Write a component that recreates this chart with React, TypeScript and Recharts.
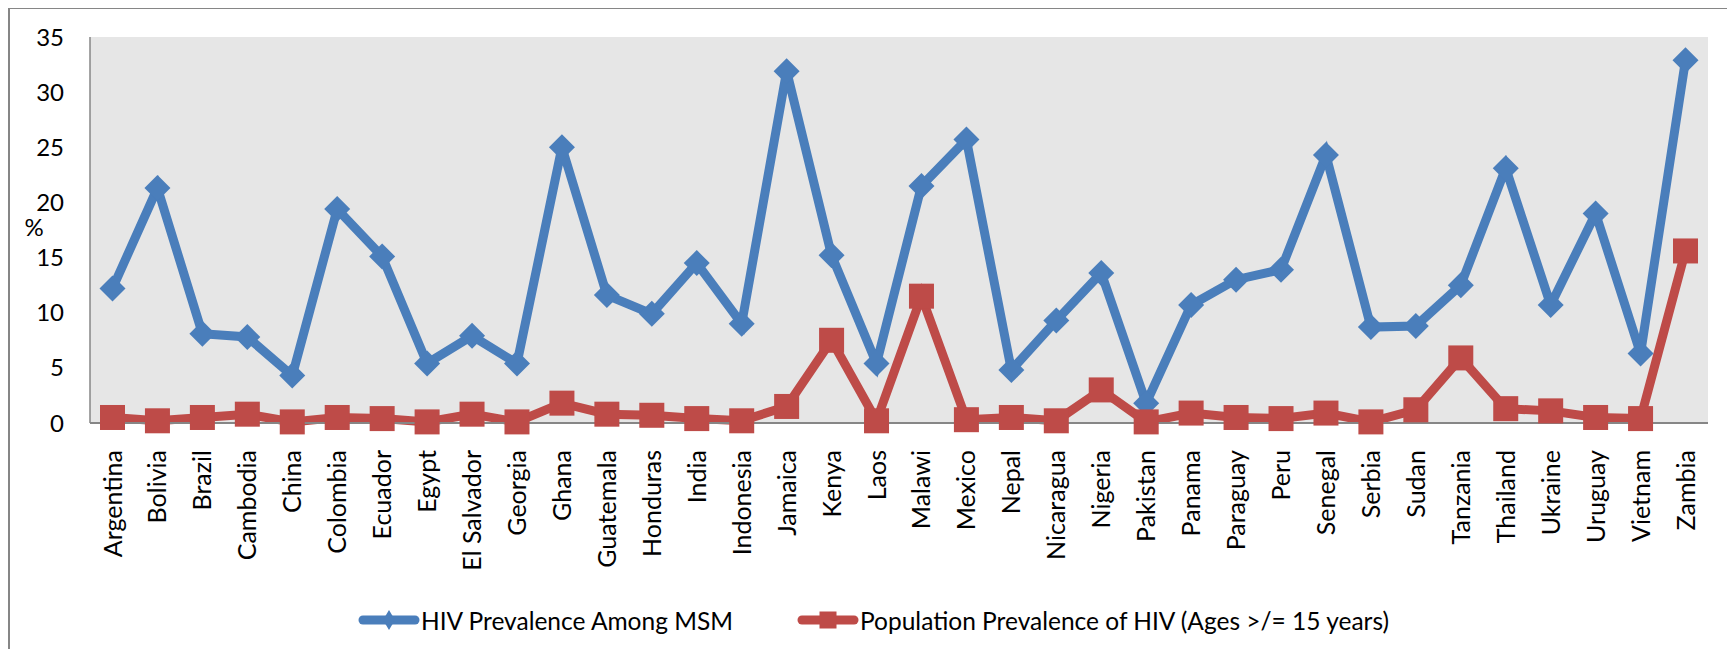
import React from 'react';
import { LineChart, Line, XAxis, YAxis, CartesianGrid } from 'recharts';

const countries = [
  'Argentina', 'Bolivia', 'Brazil', 'Cambodia', 'China', 'Colombia', 'Ecuador', 'Egypt',
  'El Salvador', 'Georgia', 'Ghana', 'Guatemala', 'Honduras', 'India', 'Indonesia', 'Jamaica',
  'Kenya', 'Laos', 'Malawi', 'Mexico', 'Nepal', 'Nicaragua', 'Nigeria', 'Pakistan', 'Panama',
  'Paraguay', 'Peru', 'Senegal', 'Serbia', 'Sudan', 'Tanzania', 'Thailand', 'Ukraine', 'Uruguay',
  'Vietnam', 'Zambia'
];

// HIV prevalence among MSM (%)
const msmPrevalence = [
  12.2, 21.3, 8.1, 7.8, 4.3, 19.4, 15.1, 5.4, 7.9, 5.4, 25.0, 11.6, 9.9, 14.5, 9.0, 31.9,
  15.2, 5.4, 21.5, 25.7, 4.8, 9.3, 13.6, 1.8, 10.7, 13.0, 13.9, 24.3, 8.7, 8.8, 12.5, 23.1,
  10.7, 19.0, 6.3, 32.9
];

// population prevalence, ages >= 15 (%)
const populationPrevalence = [
  0.5, 0.2, 0.5, 0.8, 0.1, 0.5, 0.4, 0.1, 0.8, 0.1, 1.8, 0.8, 0.7, 0.4, 0.2, 1.5,
  7.5, 0.2, 11.5, 0.3, 0.5, 0.2, 3.0, 0.1, 0.9, 0.5, 0.4, 0.9, 0.1, 1.2, 5.9, 1.3,
  1.1, 0.5, 0.4, 15.6
];

const yTicks = [0, 5, 10, 15, 20, 25, 30, 35];

const BLUE = '#4a7ebb';
const RED = '#be4b48';
const AXIS = '#868686';
const FONT = 'Lato, "Open Sans", sans-serif';

const data = countries.map((country, i) => ({
  country,
  msm: msmPrevalence[i],
  pop: populationPrevalence[i]
}));

function Diamond(props: any) {
  const { cx, cy, index } = props;
  if (cx == null || cy == null) return null;
  const r = 13;
  return (
    <polygon
      key={`msm-${index}`}
      points={`${cx},${cy - r} ${cx + r},${cy} ${cx},${cy + r} ${cx - r},${cy}`}
      fill={BLUE}
    />
  );
}

function Square(props: any) {
  const { cx, cy, index } = props;
  if (cx == null || cy == null) return null;
  const s = 12.5;
  return <rect key={`pop-${index}`} x={cx - s} y={cy - s} width={2 * s} height={2 * s} fill={RED} />;
}

function CountryTick(props: any) {
  const { x, y, payload } = props;
  return (
    <text
      x={x}
      y={y}
      transform={`rotate(-90, ${x}, ${y})`}
      textAnchor="end"
      dy="0.36em"
      fontFamily={FONT}
      fontSize={25}
      fill="#000"
    >
      {payload.value}
    </text>
  );
}

function LegendItem({ color, marker, label, left }: { color: string; marker: string; label: string; left: number }) {
  return (
    <div
      style={{
        position: 'absolute',
        left,
        top: 598,
        height: 28,
        display: 'flex',
        alignItems: 'center',
        fontFamily: FONT,
        fontSize: 24.5,
        color: '#000',
        whiteSpace: 'nowrap'
      }}
    >
      <svg width={64} height={28} style={{ display: 'block' }}>
        <line x1={6} y1={14} x2={58} y2={14} stroke={color} strokeWidth={9} strokeLinecap="round" />
        {marker === 'diamond' ? (
          <polygon points="32,4 38,14 32,24 26,14" fill={color} />
        ) : (
          <rect x={23.5} y={5.5} width={17} height={17} fill={color} />
        )}
      </svg>
      <span>{label}</span>
    </div>
  );
}

export default function App() {
  return (
    <div style={{ position: 'relative', width: 1727, height: 641 }}>
      <div
        style={{
          position: 'absolute',
          left: 0,
          top: -1,
          width: 1727,
          height: 650,
          boxSizing: 'border-box',
          borderLeft: `2px solid ${AXIS}`,
          borderTop: `2px solid ${AXIS}`
        }}
      />
      <div style={{ position: 'absolute', left: -8, top: -8 }}>
        <LineChart
          width={1735}
          height={657}
          data={data}
          margin={{ top: 37, right: 27, left: 30, bottom: 0 }}
        >
          <CartesianGrid fill="#e6e6e6" stroke="none" horizontal={false} vertical={false} />
          <XAxis
            dataKey="country"
            height={234}
            interval={0}
            padding={{ left: 22.5, right: 22.5 }}
            tickLine={false}
            tickSize={0}
            tickMargin={27}
            axisLine={{ stroke: AXIS, strokeWidth: 2 }}
            tick={<CountryTick />}
          />
          <YAxis
            width={60}
            domain={[0, 35]}
            ticks={yTicks}
            interval={0}
            tickLine={false}
            tickSize={0}
            tickMargin={26}
            axisLine={{ stroke: AXIS, strokeWidth: 1.5 }}
            tick={{ fontFamily: FONT, fontSize: 24, fill: '#000' }}
            label={() => (
              <text x={34} y={236} textAnchor="middle" fontFamily={FONT} fontSize={24} fill="#000">
                %
              </text>
            )}
          />
          <Line
            type="linear"
            dataKey="msm"
            name="HIV Prevalence Among MSM"
            stroke={BLUE}
            strokeWidth={9}
            dot={Diamond}
            activeDot={false}
            isAnimationActive={false}
          />
          <Line
            type="linear"
            dataKey="pop"
            name="Population Prevalence of HIV (Ages >/= 15 years)"
            stroke={RED}
            strokeWidth={9}
            dot={Square}
            activeDot={false}
            isAnimationActive={false}
          />
        </LineChart>
      </div>
      <LegendItem color={BLUE} marker="diamond" label="HIV Prevalence Among MSM" left={349} />
      <LegendItem color={RED} marker="square" label="Population Prevalence of HIV (Ages >/= 15 years)" left={788} />
    </div>
  );
}
